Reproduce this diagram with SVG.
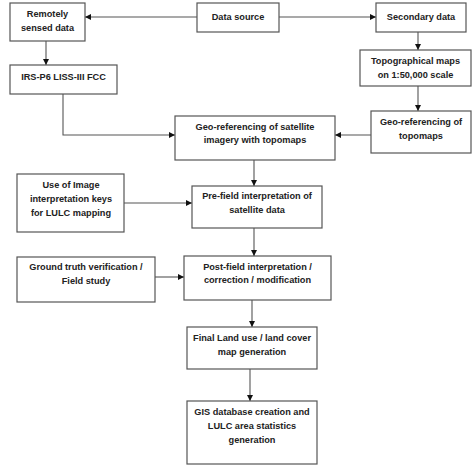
<svg xmlns="http://www.w3.org/2000/svg" width="474" height="472" viewBox="0 0 474 472">
<defs>
<marker id="ah" markerWidth="6" markerHeight="6" refX="6" refY="3" orient="auto" markerUnits="userSpaceOnUse">
<path d="M0,0 L6,3 L0,6 Z" fill="#111"/>
</marker>
<style>
.box{fill:#fff;stroke:#555;stroke-width:1.2}
.t{font-family:"Liberation Sans",Arial,sans-serif;font-weight:bold;font-size:9.2px;fill:#222;text-anchor:middle}
.c{fill:none;stroke:#555;stroke-width:1.1;marker-end:url(#ah)}
</style>
</defs>
<rect width="474" height="472" fill="#fff"/>
<g id="connectors">
<path class="c" d="M197,17 H85"/>
<path class="c" d="M279,17 H376"/>
<path class="c" d="M46,41 V65"/>
<path class="c" d="M418,32 V50"/>
<path class="c" d="M418,86 V111"/>
<path class="c" d="M63,94 V135 H175"/>
<path class="c" d="M371,135 H335"/>
<path class="c" d="M254,160 V186"/>
<path class="c" d="M124,203 H192"/>
<path class="c" d="M254,228 V256"/>
<path class="c" d="M155,277 H184"/>
<path class="c" d="M252,300 V327"/>
<path class="c" d="M250,369 V401"/>
</g>
<g id="data-source"><rect class="box" x="197" y="3" width="82" height="29"/><text class="t" x="238" y="20">Data source</text></g>
<g id="remotely-sensed"><rect class="box" x="10" y="3" width="75" height="38"/><text class="t" x="47.5" y="17">Remotely</text><text class="t" x="47.5" y="31">sensed data</text></g>
<g id="secondary-data"><rect class="box" x="376" y="3" width="90" height="29"/><text class="t" x="421" y="20">Secondary data</text></g>
<g id="irs"><rect class="box" x="10" y="65" width="107" height="29"/><text class="t" x="63.5" y="80">IRS-P6 LISS-III FCC</text></g>
<g id="topo-maps"><rect class="box" x="360" y="50" width="111" height="36"/><text class="t" x="415.5" y="64">Topographical maps</text><text class="t" x="415.5" y="78">on 1:50,000 scale</text></g>
<g id="geo-topo"><rect class="box" x="371" y="111" width="100" height="42"/><text class="t" x="421" y="125">Geo-referencing of</text><text class="t" x="421" y="139">topomaps</text></g>
<g id="geo-sat"><rect class="box" x="175" y="116" width="160" height="44"/><text class="t" x="255" y="130">Geo-referencing of satellite</text><text class="t" x="255" y="143">imagery with topomaps</text></g>
<g id="keys"><rect class="box" x="17" y="174" width="107" height="58"/><text class="t" x="71" y="188">Use of Image</text><text class="t" x="71" y="202">interpretation keys</text><text class="t" x="71" y="216">for LULC mapping</text></g>
<g id="pre-field"><rect class="box" x="192" y="186" width="130" height="42"/><text class="t" x="257" y="199">Pre-field interpretation of</text><text class="t" x="257" y="213">satellite data</text></g>
<g id="ground-truth"><rect class="box" x="17" y="257" width="138" height="45"/><text class="t" x="86" y="270">Ground truth verification /</text><text class="t" x="86" y="284">Field study</text></g>
<g id="post-field"><rect class="box" x="184" y="256" width="147" height="44"/><text class="t" x="257.5" y="270">Post-field interpretation /</text><text class="t" x="257.5" y="283">correction / modification</text></g>
<g id="final-map"><rect class="box" x="187" y="327" width="130" height="42"/><text class="t" x="252" y="341">Final Land use / land cover</text><text class="t" x="252" y="355">map generation</text></g>
<g id="gis"><rect class="box" x="187" y="401" width="130" height="63"/><text class="t" x="252" y="415">GIS database creation and</text><text class="t" x="252" y="429">LULC area statistics</text><text class="t" x="252" y="443">generation</text></g>
</svg>
